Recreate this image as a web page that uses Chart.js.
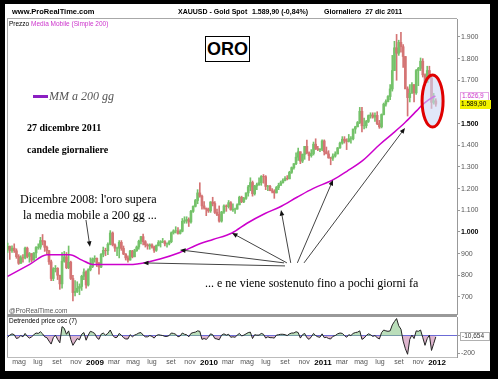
<!DOCTYPE html>
<html lang="it">
<head>
<meta charset="utf-8">
<title>ORO - XAUUSD</title>
<script src="https://cdn.jsdelivr.net/npm/chart.js@4.4.1/dist/chart.umd.min.js"></script>
<style>
  html, body { margin: 0; padding: 0; background: #000; }
  #frame { position: relative; width: 498px; height: 379px; background: #000; overflow: hidden; font-family: "Liberation Sans", Arial, sans-serif; }
  #paper { position: absolute; left: 5px; top: 4px; width: 485px; height: 367px; background: #fff; }
  canvas { position: absolute; left: 0; top: 0; }
  .t { position: absolute; white-space: nowrap; line-height: 1; }
  .hdr { font-weight: bold; font-size: 7px; color: #000; top: 8px; }
  .small { font-size: 6.5px; color: #000; }
  .serif { font-family: "Liberation Serif", "Times New Roman", serif; color: #000; }
  .rule { position: absolute; background: #a8a8a8; }
</style>
</head>
<body>
<div id="frame">
  <div id="paper"></div>
  <div class="rule" style="left:7px;top:18px;width:450px;height:1px;"></div>
  <div class="rule" style="left:7px;top:18px;width:1px;height:339px;"></div>
  <div class="rule" style="left:7px;top:314px;width:450px;height:3px;background:#999;"></div>

  <canvas id="main" width="498" height="379"></canvas>
  <canvas id="osc" width="498" height="379"></canvas>

  <div class="t hdr" style="left:12px;font-size:7.5px;">www.ProRealTime.com</div>
  <div class="t hdr" style="left:178px;">XAUUSD - Gold Spot</div>
  <div class="t hdr" style="left:252px;">1.589,90 (-0,84%)</div>
  <div class="t hdr" style="left:324px;">Giornaliero&nbsp; 27 dic 2011</div>
  <div class="t small" style="left:9px;top:21px;">Prezzo <span style="color:#cc33cc">Media Mobile (Simple 200)</span></div>

  <div style="position:absolute;left:205px;top:36px;width:43px;height:24px;border:1px solid #000;background:#fff;font:bold 18px 'Liberation Sans',Arial,sans-serif;text-align:center;line-height:25px;">ORO</div>

  <div style="position:absolute;left:33px;top:95px;width:15px;height:3px;background:#8b1fc2;"></div>
  <div class="t serif" style="left:49px;top:90px;font-size:12px;font-style:italic;color:#555;">MM a 200 gg</div>
  <div class="t serif" style="left:27px;top:123px;font-size:10px;font-weight:bold;">27 dicembre 2011</div>
  <div class="t serif" style="left:27px;top:145px;font-size:10px;font-weight:bold;">candele giornaliere</div>
  <div class="t serif" style="left:20px;top:193px;font-size:12px;">Dicembre 2008: l'oro supera</div>
  <div class="t serif" style="left:23px;top:209px;font-size:12px;">la media mobile a 200 gg ...</div>
  <div class="t serif" style="left:205px;top:277px;font-size:12px;">... e ne viene sostenuto fino a pochi giorni fa</div>

  <div class="t small" style="left:9px;top:308px;color:#555;">@ProRealTime.com</div>
  <div class="t small" style="left:9px;top:318px;">Detrended price osc (7)</div>

  <div class="t small" style="left:460px;top:92px;width:26px;height:7px;border:1px solid #e6a6e6;background:#fff;color:#cc33cc;padding-left:1px;">1.626,9</div>
  <div class="t small" style="left:460px;top:100px;width:30px;height:8px;background:#f2f200;color:#000;padding-top:1px;padding-left:1px;">1.589,90</div>
  <div class="t small" style="left:460px;top:332px;width:27px;height:7px;border:1px solid #b0b0b0;background:#fff;color:#333;padding-left:1px;">-10,654</div>
</div>

<script>
// ---- dati settimanali (XAUUSD), dalla settimana del 24 marzo 2008 ----
const firstWeek = [2008, 2, 24];

const lows = [
  905, 873, 905, 905, 878, 850, 855, 860, 875, 880, 860, 860, 870, 880, 920, 920, 940, 910, 900, 850,
  775, 775, 815, 780, 735, 740, 860, 830, 830, 780, 681, 705, 720, 710, 730, 780, 740, 750, 820, 835, 860,
  840, 805, 835, 885, 890, 895, 940, 935, 910, 890, 880, 915, 895, 870, 860, 870, 880, 885, 910, 920, 945,
  940, 930, 920, 920, 925, 905, 910, 935, 930, 950, 935, 930, 940, 950, 990, 995, 990, 990, 1000, 1040, 1040, 1025,
  1040, 1090, 1115, 1130, 1160, 1105, 1105, 1075, 1090,
  1090, 1120, 1085, 1075, 1045, 1045, 1085, 1095, 1110, 1100, 1095, 1085, 1105, 1125, 1135, 1135, 1150,
  1165, 1190, 1165, 1170, 1195, 1215, 1215, 1225, 1195, 1190, 1190, 1180, 1155, 1180, 1195, 1215, 1225, 1235,
  1240, 1245, 1270, 1290, 1310, 1330, 1315, 1320, 1335, 1360, 1330, 1345, 1355, 1380, 1375, 1370, 1375,
  1355, 1365, 1340, 1310, 1330, 1345, 1360, 1385, 1405, 1410, 1380, 1415, 1410, 1425, 1455, 1485, 1500,
  1462, 1475, 1480, 1505, 1525, 1525, 1510, 1495, 1478, 1480, 1540, 1580, 1600, 1610, 1650, 1745, 1700, 1815,
  1830, 1760, 1705, 1535, 1600, 1640, 1600, 1635, 1675, 1745, 1715, 1675, 1690, 1705, 1570, 1590, 1580
];

const highs = [
  948, 935, 936, 945, 922, 895, 890, 895, 930, 930, 905, 900, 905, 932, 945, 975, 988, 960, 935, 915,
  870, 835, 845, 835, 800, 905, 910, 905, 935, 865, 800, 775, 770, 760, 800, 830, 820, 830, 880, 880, 890,
  880, 860, 900, 930, 925, 950, 1006, 1000, 945, 930, 960, 960, 935, 900, 890, 915, 915, 920, 935, 962, 980,
  990, 960, 945, 945, 945, 935, 940, 960, 960, 970, 960, 950, 960, 1000, 1010, 1024, 1020, 1010, 1062, 1070, 1070, 1065,
  1100, 1120, 1150, 1195, 1227, 1170, 1140, 1110, 1110,
  1140, 1160, 1140, 1105, 1120, 1095, 1125, 1125, 1145, 1140, 1130, 1110, 1130, 1165, 1165, 1160, 1180,
  1215, 1250, 1235, 1215, 1225, 1250, 1260, 1265, 1260, 1215, 1215, 1200, 1195, 1210, 1225, 1235, 1245, 1255,
  1260, 1280, 1300, 1315, 1365, 1387, 1370, 1360, 1395, 1424, 1370, 1380, 1415, 1430, 1395, 1385, 1425,
  1425, 1392, 1375, 1345, 1360, 1370, 1390, 1415, 1440, 1440, 1430, 1450, 1440, 1475, 1488, 1510, 1575,
  1575, 1525, 1515, 1540, 1550, 1550, 1550, 1555, 1515, 1545, 1595, 1610, 1630, 1680, 1815, 1880, 1912, 1885,
  1921, 1865, 1810, 1670, 1680, 1690, 1680, 1750, 1760, 1803, 1800, 1730, 1765, 1765, 1715, 1640, 1615
];

const closes = [
  933, 914, 925, 913, 886, 855, 881, 880, 925, 887, 900, 870, 903, 928, 930, 960, 957, 929, 913, 862,
  785, 830, 832, 800, 760, 865, 885, 835, 860, 785, 720, 725, 740, 748, 795, 815, 755, 825, 840, 875, 878,
  855, 838, 897, 915, 913, 943, 995, 940, 925, 925, 952, 924, 898, 880, 870, 912, 885, 913, 930, 957, 978,
  955, 940, 935, 940, 930, 915, 937, 951, 955, 955, 945, 945, 955, 996, 1005, 1005, 993, 1003, 1049, 1052, 1057, 1046,
  1095, 1118, 1145, 1180, 1165, 1120, 1110, 1105, 1097,
  1138, 1131, 1090, 1081, 1050, 1092, 1120, 1117, 1135, 1102, 1105, 1105, 1125, 1160, 1140, 1155, 1180,
  1208, 1228, 1176, 1212, 1218, 1227, 1256, 1255, 1210, 1210, 1190, 1188, 1180, 1205, 1215, 1227, 1237, 1247,
  1245, 1275, 1297, 1315, 1345, 1370, 1327, 1358, 1395, 1365, 1352, 1362, 1405, 1385, 1380, 1382, 1420,
  1370, 1360, 1342, 1340, 1350, 1360, 1388, 1410, 1428, 1420, 1418, 1430, 1430, 1475, 1485, 1505, 1557,
  1490, 1490, 1510, 1537, 1540, 1530, 1538, 1500, 1485, 1542, 1590, 1602, 1625, 1660, 1745, 1850, 1825, 1875,
  1855, 1810, 1660, 1620, 1640, 1680, 1642, 1745, 1755, 1788, 1725, 1690, 1745, 1710, 1598, 1605, 1590
];
const firstOpen = 920;

// Detrended price osc (7), un valore per settimana
const osc = [
  -15, 10, 25, 15, -30, -20, 5, -10, 30, -5, -25, -10, 15, 35, 30, 50, 25, -10, -20, -60,
  -95, -20, 10, -40, -80, 110, 90, 20, 60, -40, -110, -70, -30, -45, 20, 40, -50, 10, 55, 45, 30,
  -20, -40, 20, 35, 10, 30, 70, 10, -20, -15, 30, 10, -20, -35, -35, 15, -10, 10, 20, 35, 40,
  10, -10, -10, 5, -5, -25, 5, 15, 10, 5, -5, -5, 5, 35, 30, 20, -10, 0, 35, 20, 15, -10,
  30, 40, 45, 60, 55, -40, -30, -40, -15,
  25, 15, -30, -35, -45, 10, 25, 10, 20, -15, -10, -15, 10, 30, 0, 10, 25,
  40, 45, -30, 15, 10, 10, 30, 20, -25, -10, -20, -20, -25, 10, 15, 20, 20, 15,
  5, 25, 35, 35, 50, 40, -25, 15, 30, -20, -40, -10, 30, 5, -10, -15, 25,
  -20, -15, -30, -35, -5, 5, 25, 35, 30, 5, -15, 15, 5, 30, 40, 45, 60,
  -40, -25, 5, 25, 15, -5, 5, -20, -35, 40, 70, 60, 55, 60, 130, 170, 205, 120,
  80, -60, -150, -215, -40, 10, -30, 60, 55, 70, -20, -110, -30, 10, -170, -90, -10
];

// Media mobile semplice a 200 giorni
const maDates = [
  "2008-03-26", "2008-06-05", "2008-07-30", "2008-10-12", "2008-11-20", "2008-12-25",
  "2009-05-01", "2009-07-27", "2009-09-29", "2009-12-02", "2010-01-14", "2010-03-14",
  "2010-05-01", "2010-06-28", "2010-08-15", "2010-10-09", "2010-11-29", "2011-02-02",
  "2011-03-17", "2011-05-07", "2011-07-01", "2011-08-12", "2011-09-20", "2011-10-28",
  "2011-11-17", "2011-12-21", "2011-12-27"
];
const maValues = [
  795, 850, 894, 895, 870, 850,
  850, 875, 905, 945, 965, 995,
  1040, 1085, 1115, 1160, 1200, 1240,
  1280, 1330, 1405, 1455, 1505, 1560,
  1590, 1624, 1627
];

const priceTicks = [700, 800, 900, 1000, 1100, 1200, 1300, 1400, 1500, 1700, 1800, 1900];
const oscTicks = [-200, 0];
const monthNames = ["gen", "feb", "mar", "apr", "mag", "giu", "lug", "ago", "set", "ott", "nov", "dic"];
const monthTicks = [4, 6, 8, 10, 12, 14, 16, 18, 20, 22, 24, 26, 28, 30, 32, 34, 36, 38, 40, 42, 44, 46, 48];

// note sul grafico: [mese, prezzo] -> [mese, prezzo]
const arrows = [
  { from: [11.05, 1055], to: [11.47, 931] },
  { from: [32.0, 843], to: [17.05, 857] },
  { from: [31.9, 857], to: [20.95, 917] },
  { from: [32.2, 857], to: [26.42, 995] },
  { from: [32.6, 857], to: [31.58, 1101] },
  { from: [33.3, 857], to: [37.05, 1240] },
  { from: [34.0, 857], to: [44.63, 1480] }
];
const circle = { at: [47.53, 1604], rx: 10.5, ry: 26 };

// ---- helpers ----
const X_MIN = 2.74, X_MAX = 50.1;

function monthPos(y, mo, d) {
  const dim = new Date(Date.UTC(y, mo + 1, 0)).getUTCDate();
  return (y - 2008) * 12 + mo + (d - 1) / dim;
}
function dateToPos(s) {
  const [y, m, d] = s.split("-").map(Number);
  return monthPos(y, m - 1, d);
}
function weekPos(i) {
  const d = new Date(Date.UTC(firstWeek[0], firstWeek[1], firstWeek[2] + 7 * i + 2));
  return monthPos(d.getUTCFullYear(), d.getUTCMonth(), d.getUTCDate());
}
function fmt(v) {
  return String(v).replace(/\B(?=(\d{3})+(?!\d))/g, ".");
}

const UP = "#74c26a", DOWN = "#d47474";
const wicks = [], bodies = [], colors = [], oscPoints = [];
closes.forEach(function (c, i) {
  const x = weekPos(i);
  const o = i === 0 ? firstOpen : closes[i - 1];
  wicks.push({ x: x, y: [lows[i], highs[i]] });
  bodies.push({ x: x, y: [o, c] });
  colors.push(c >= o ? UP : DOWN);
  oscPoints.push({ x: x, y: osc[i] });
});
const maPoints = maDates.map(function (d, i) { return { x: dateToPos(d), y: maValues[i] }; });

// ---- frecce ed ellisse ----
function drawArrow(ctx, x1, y1, x2, y2) {
  const ang = Math.atan2(y2 - y1, x2 - x1);
  const head = 6;
  ctx.beginPath();
  ctx.moveTo(x1, y1);
  ctx.lineTo(x2 - Math.cos(ang) * head * 0.8, y2 - Math.sin(ang) * head * 0.8);
  ctx.stroke();
  ctx.beginPath();
  ctx.moveTo(x2, y2);
  ctx.lineTo(x2 - head * Math.cos(ang - 0.4), y2 - head * Math.sin(ang - 0.4));
  ctx.lineTo(x2 - head * Math.cos(ang + 0.4), y2 - head * Math.sin(ang + 0.4));
  ctx.closePath();
  ctx.fill();
}

const notesPlugin = {
  id: "notes",
  afterDatasetsDraw(chart) {
    const ctx = chart.ctx, xs = chart.scales.x, ys = chart.scales.y;
    ctx.save();
    const cx = xs.getPixelForValue(circle.at[0]), cy = ys.getPixelForValue(circle.at[1]);
    ctx.beginPath();
    ctx.ellipse(cx, cy, circle.rx, circle.ry, 0, 0, Math.PI * 2);
    ctx.fillStyle = "rgba(205, 215, 245, 0.6)";
    ctx.fill();
    ctx.lineWidth = 3;
    ctx.strokeStyle = "#e00000";
    ctx.stroke();

    ctx.strokeStyle = "#444";
    ctx.fillStyle = "#111";
    ctx.lineWidth = 1;
    arrows.forEach(function (a) {
      drawArrow(ctx,
        xs.getPixelForValue(a.from[0]), ys.getPixelForValue(a.from[1]),
        xs.getPixelForValue(a.to[0]), ys.getPixelForValue(a.to[1]));
    });
    ctx.restore();
  }
};

// ---- grafico principale ----
new Chart(document.getElementById("main"), {
  type: "bar",
  data: {
    datasets: [
      {
        type: "line",
        data: maPoints,
        borderColor: "#cc00cc",
        borderWidth: 1.5,
        pointRadius: 0,
        cubicInterpolationMode: "monotone",
        order: 0
      },
      { data: bodies, backgroundColor: colors, barThickness: 2, grouped: false, order: 1 },
      { data: wicks, backgroundColor: colors, barThickness: 1, grouped: false, order: 2 }
    ]
  },
  options: {
    responsive: false,
    animation: false,
    layout: { padding: { left: 7, top: 19, right: 8, bottom: 65 } },
    plugins: { legend: { display: false }, tooltip: { enabled: false } },
    scales: {
      x: { type: "linear", min: X_MIN, max: X_MAX, offset: false, display: false },
      y: {
        position: "right",
        min: 621,
        max: 1983,
        afterFit: function (s) { s.width = 33; },
        afterBuildTicks: function (s) { s.ticks = priceTicks.map(function (v) { return { value: v }; }); },
        grid: { drawOnChartArea: false, tickLength: 3, color: "#999" },
        border: { color: "#999" },
        ticks: {
          padding: 1,
          callback: function (v) { return fmt(v); },
          color: function (c) { return (c.tick.value === 1000 || c.tick.value === 1500) ? "#000" : "#555"; },
          font: function (c) {
            const b = c.tick && (c.tick.value === 1000 || c.tick.value === 1500);
            return { family: "Liberation Sans", size: 7, weight: b ? "bold" : "normal" };
          }
        }
      }
    }
  },
  plugins: [notesPlugin]
});

// ---- oscillatore ----
new Chart(document.getElementById("osc"), {
  type: "line",
  data: {
    datasets: [{
      data: oscPoints,
      borderColor: "#222",
      borderWidth: 1,
      pointRadius: 0,
      fill: { target: { value: 0 }, above: "rgba(130, 195, 130, 0.55)", below: "rgba(195, 120, 165, 0.55)" }
    }]
  },
  options: {
    responsive: false,
    animation: false,
    layout: { padding: { left: 7, top: 317, right: 8, bottom: 8 } },
    plugins: { legend: { display: false }, tooltip: { enabled: false } },
    scales: {
      x: {
        type: "linear",
        min: X_MIN,
        max: X_MAX,
        afterFit: function (s) { s.height = 14; },
        afterBuildTicks: function (s) { s.ticks = monthTicks.map(function (v) { return { value: v }; }); },
        grid: { display: false, drawTicks: false },
        border: { color: "#bbb" },
        ticks: {
          padding: 1,
          maxRotation: 0,
          autoSkip: false,
          callback: function (v) { return v % 12 === 0 ? String(2008 + v / 12) : monthNames[v % 12]; },
          color: function (c) { return c.tick.value % 12 === 0 ? "#000" : "#555"; },
          font: function (c) {
            const y = c.tick && c.tick.value % 12 === 0;
            return { family: "Liberation Sans", size: y ? 8 : 7, weight: y ? "bold" : "normal" };
          }
        }
      },
      y: {
        position: "right",
        min: -247,
        max: 223,
        afterFit: function (s) { s.width = 33; },
        afterBuildTicks: function (s) { s.ticks = oscTicks.map(function (v) { return { value: v }; }); },
        grid: {
          color: function (c) { return c.tick && c.tick.value === 0 ? "#6b6bd6" : "rgba(0,0,0,0)"; },
          tickColor: "#999",
          tickLength: 3
        },
        border: { color: "#999" },
        ticks: {
          padding: 1,
          color: "#555",
          font: { family: "Liberation Sans", size: 7 },
          callback: function (v) { return v === 0 ? "" : String(v); }
        }
      }
    }
  }
});
</script>
</body>
</html>
